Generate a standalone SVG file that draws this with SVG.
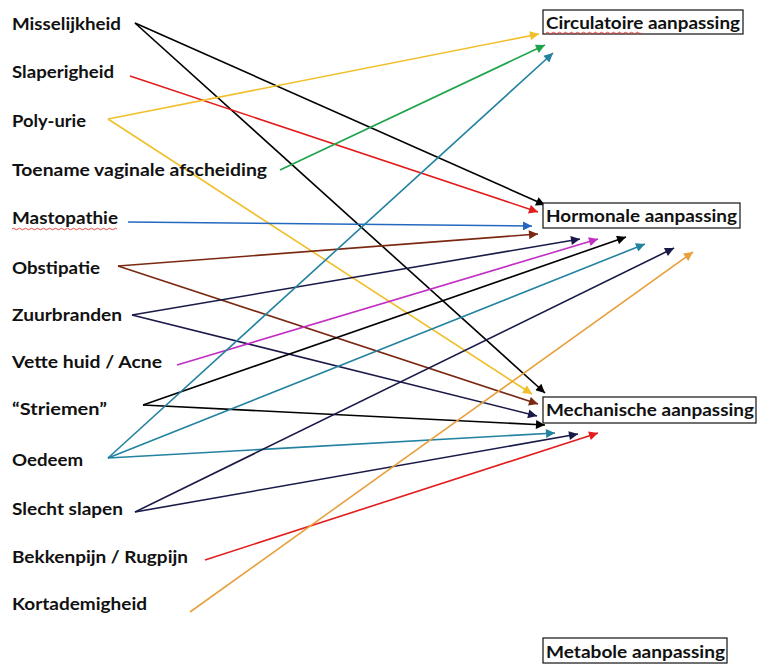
<svg xmlns="http://www.w3.org/2000/svg" width="758" height="664" viewBox="0 0 758 664">
<style>
.lbl{font-family:Lato,"Liberation Sans",sans-serif;font-weight:bold;font-size:17px;fill:#111}
.box{fill:#fff;stroke:#111;stroke-width:1.2}
.c{fill:none;stroke-width:1.6}
.sq{fill:none;stroke:#e03030;stroke-width:0.9}
</style>
<defs>
<marker id="m-black" viewBox="0 0 10 10" refX="10" refY="5" markerWidth="11" markerHeight="9" markerUnits="userSpaceOnUse" orient="auto"><path d="M0,0L10,5L0,10z" fill="#000"/></marker>
<marker id="m-red" viewBox="0 0 10 10" refX="10" refY="5" markerWidth="11" markerHeight="9" markerUnits="userSpaceOnUse" orient="auto"><path d="M0,0L10,5L0,10z" fill="#e31d1d"/></marker>
<marker id="m-yellow" viewBox="0 0 10 10" refX="10" refY="5" markerWidth="11" markerHeight="9" markerUnits="userSpaceOnUse" orient="auto"><path d="M0,0L10,5L0,10z" fill="#f0bf2a"/></marker>
<marker id="m-green" viewBox="0 0 10 10" refX="10" refY="5" markerWidth="11" markerHeight="9" markerUnits="userSpaceOnUse" orient="auto"><path d="M0,0L10,5L0,10z" fill="#1fa34a"/></marker>
<marker id="m-blue" viewBox="0 0 10 10" refX="10" refY="5" markerWidth="11" markerHeight="9" markerUnits="userSpaceOnUse" orient="auto"><path d="M0,0L10,5L0,10z" fill="#2468c0"/></marker>
<marker id="m-brown" viewBox="0 0 10 10" refX="10" refY="5" markerWidth="11" markerHeight="9" markerUnits="userSpaceOnUse" orient="auto"><path d="M0,0L10,5L0,10z" fill="#7a2812"/></marker>
<marker id="m-navy" viewBox="0 0 10 10" refX="10" refY="5" markerWidth="11" markerHeight="9" markerUnits="userSpaceOnUse" orient="auto"><path d="M0,0L10,5L0,10z" fill="#1a1a48"/></marker>
<marker id="m-magenta" viewBox="0 0 10 10" refX="10" refY="5" markerWidth="11" markerHeight="9" markerUnits="userSpaceOnUse" orient="auto"><path d="M0,0L10,5L0,10z" fill="#c22fc4"/></marker>
<marker id="m-teal" viewBox="0 0 10 10" refX="10" refY="5" markerWidth="11" markerHeight="9" markerUnits="userSpaceOnUse" orient="auto"><path d="M0,0L10,5L0,10z" fill="#2382a0"/></marker>
<marker id="m-orange" viewBox="0 0 10 10" refX="10" refY="5" markerWidth="11" markerHeight="9" markerUnits="userSpaceOnUse" orient="auto"><path d="M0,0L10,5L0,10z" fill="#e8a03c"/></marker>
</defs>
<rect width="758" height="664" fill="#fff"/>

<g id="connectors">
<line class="c" x1="135" y1="23" x2="545" y2="205" stroke="#000" marker-end="url(#m-black)"/>
<line class="c" x1="135" y1="23" x2="545" y2="393" stroke="#000" marker-end="url(#m-black)"/>
<line class="c" x1="130" y1="76" x2="538" y2="212" stroke="#e31d1d" marker-end="url(#m-red)"/>
<line class="c" x1="108" y1="119" x2="539" y2="34" stroke="#f0bf2a" marker-end="url(#m-yellow)"/>
<line class="c" x1="108" y1="119" x2="532" y2="394" stroke="#f0bf2a" marker-end="url(#m-yellow)"/>
<line class="c" x1="280" y1="170" x2="545" y2="45" stroke="#1fa34a" marker-end="url(#m-green)"/>
<line class="c" x1="128" y1="222" x2="532" y2="226" stroke="#2468c0" marker-end="url(#m-blue)"/>
<line class="c" x1="118" y1="266" x2="538" y2="234" stroke="#7a2812" marker-end="url(#m-brown)"/>
<line class="c" x1="118" y1="266" x2="538" y2="404" stroke="#7a2812" marker-end="url(#m-brown)"/>
<line class="c" x1="132" y1="315" x2="580" y2="239" stroke="#1a1a48" marker-end="url(#m-navy)"/>
<line class="c" x1="132" y1="315" x2="537" y2="416" stroke="#1a1a48" marker-end="url(#m-navy)"/>
<line class="c" x1="177" y1="365" x2="598" y2="239" stroke="#c22fc4" marker-end="url(#m-magenta)"/>
<line class="c" x1="143" y1="405" x2="626" y2="237" stroke="#000" marker-end="url(#m-black)"/>
<line class="c" x1="143" y1="405" x2="545" y2="425" stroke="#000" marker-end="url(#m-black)"/>
<line class="c" x1="108" y1="458" x2="553" y2="53" stroke="#2382a0" marker-end="url(#m-teal)"/>
<line class="c" x1="108" y1="458" x2="645" y2="244" stroke="#2382a0" marker-end="url(#m-teal)"/>
<line class="c" x1="108" y1="458" x2="555" y2="433" stroke="#2382a0" marker-end="url(#m-teal)"/>
<line class="c" x1="135" y1="512" x2="674" y2="248" stroke="#1a1a48" marker-end="url(#m-navy)"/>
<line class="c" x1="135" y1="512" x2="578" y2="434" stroke="#1a1a48" marker-end="url(#m-navy)"/>
<line class="c" x1="205" y1="560" x2="598" y2="433" stroke="#e31d1d" marker-end="url(#m-red)"/>
<line class="c" x1="190" y1="612" x2="693" y2="252" stroke="#e8a03c" marker-end="url(#m-orange)"/>
</g>

<g id="misselijkheid"><text class="lbl" x="12" y="29.5" textLength="109" lengthAdjust="spacingAndGlyphs">Misselijkheid</text></g>
<g id="slaperigheid"><text class="lbl" x="12" y="78" textLength="102" lengthAdjust="spacingAndGlyphs">Slaperigheid</text></g>
<g id="poly-urie"><text class="lbl" x="12" y="127" textLength="74" lengthAdjust="spacingAndGlyphs">Poly-urie</text></g>
<g id="toename"><text class="lbl" x="12" y="176" textLength="255" lengthAdjust="spacingAndGlyphs">Toename vaginale afscheiding</text></g>
<g id="mastopathie"><text class="lbl" x="12" y="224" textLength="106" lengthAdjust="spacingAndGlyphs">Mastopathie</text>
<path class="sq" d="M12,229 q1.5,-1.5 3,0 t3,0 t3,0 t3,0 t3,0 t3,0 t3,0 t3,0 t3,0 t3,0 t3,0 t3,0 t3,0 t3,0 t3,0 t3,0 t3,0 t3,0 t3,0 t3,0 t3,0 t3,0 t3,0 t3,0 t3,0 t3,0 t3,0 t3,0 t3,0 t3,0 t3,0 t3,0 t3,0 t3,0 t3,0"/></g>
<g id="obstipatie"><text class="lbl" x="12" y="274" textLength="88" lengthAdjust="spacingAndGlyphs">Obstipatie</text></g>
<g id="zuurbranden"><text class="lbl" x="12" y="321" textLength="110" lengthAdjust="spacingAndGlyphs">Zuurbranden</text></g>
<g id="vette-huid"><text class="lbl" x="12" y="368" textLength="150" lengthAdjust="spacingAndGlyphs">Vette huid / Acne</text></g>
<g id="striemen"><text class="lbl" x="12" y="415" textLength="95" lengthAdjust="spacingAndGlyphs">“Striemen”</text></g>
<g id="oedeem"><text class="lbl" x="12" y="466" textLength="71" lengthAdjust="spacingAndGlyphs">Oedeem</text></g>
<g id="slecht-slapen"><text class="lbl" x="12" y="515" textLength="111" lengthAdjust="spacingAndGlyphs">Slecht slapen</text></g>
<g id="bekkenpijn"><text class="lbl" x="12" y="563" textLength="176" lengthAdjust="spacingAndGlyphs">Bekkenpijn / Rugpijn</text></g>
<g id="kortademigheid"><text class="lbl" x="12" y="610" textLength="135" lengthAdjust="spacingAndGlyphs">Kortademigheid</text></g>

<g id="circulatoire"><rect class="box" x="543" y="10" width="200" height="24"/>
<text class="lbl" x="546" y="29" textLength="194" lengthAdjust="spacingAndGlyphs">Circulatoire aanpassing</text>
<path class="sq" d="M546,33 q1.5,-1.5 3,0 t3,0 t3,0 t3,0 t3,0 t3,0 t3,0 t3,0 t3,0 t3,0 t3,0 t3,0 t3,0 t3,0 t3,0 t3,0 t3,0 t3,0 t3,0 t3,0 t3,0 t3,0 t3,0 t3,0 t3,0 t3,0 t3,0 t3,0 t3,0 t3,0 t3,0 t3,0"/></g>
<g id="hormonale"><rect class="box" x="543" y="203" width="197" height="25"/>
<text class="lbl" x="546" y="222" textLength="191" lengthAdjust="spacingAndGlyphs">Hormonale aanpassing</text></g>
<g id="mechanische"><rect class="box" x="543" y="397" width="213" height="26"/>
<text class="lbl" x="546" y="416" textLength="208" lengthAdjust="spacingAndGlyphs">Mechanische aanpassing</text></g>
<g id="metabole"><rect class="box" x="543" y="638" width="184" height="25"/>
<text class="lbl" x="546" y="658" textLength="179" lengthAdjust="spacingAndGlyphs">Metabole aanpassing</text></g>
</svg>
